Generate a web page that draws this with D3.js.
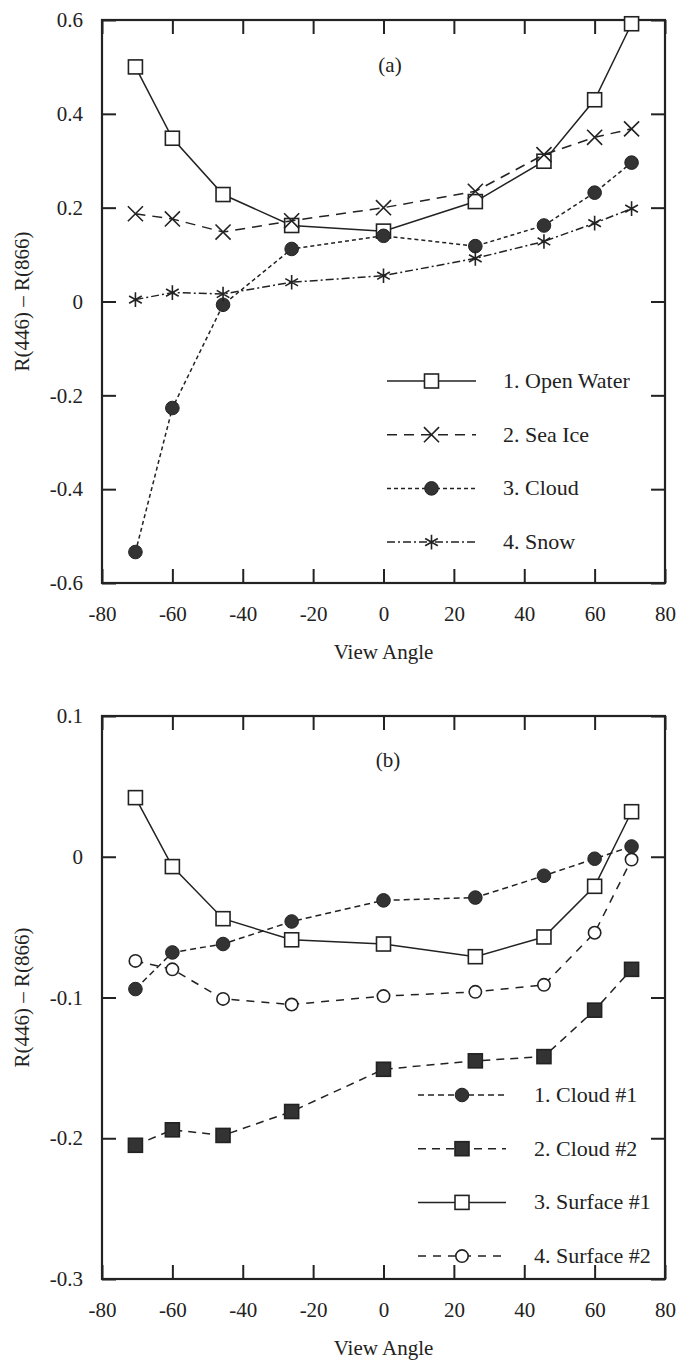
<!DOCTYPE html>
<html>
  <head>
    <meta charset="UTF-8" />
    <title>R(446) - R(866) vs View Angle</title>
    <style>
      body { margin: 0; background: #fff; }
      svg text { font-family: "Liberation Serif", "Times New Roman", "DejaVu Serif", serif !important; fill: #222; }
      .axis text { font-size: 21px; }
      .axis path { display: none; }
      .axis line { stroke: #222; stroke-width: 2; }
    </style>
  </head>
  <body>
    <svg id="chart" width="678" height="1361" font-family="Liberation Serif"></svg>
    <script src="https://cdnjs.cloudflare.com/ajax/libs/d3/7.8.5/d3.min.js"></script>
    <script>
// MISR camera view angles
const angles = [-70.5, -60, -45.6, -26.1, 0, 26.1, 45.6, 60, 70.5];
const xTicks = [-80, -60, -40, -20, 0, 20, 40, 60, 80];

// panel (a)
const openWater = [0.500, 0.348, 0.228, 0.162, 0.150, 0.213, 0.299, 0.430, 0.592];
const seaIce    = [0.187, 0.176, 0.148, 0.172, 0.200, 0.235, 0.313, 0.350, 0.368];
const cloud     = [-0.534, -0.227, -0.007, 0.112, 0.140, 0.118, 0.162, 0.232, 0.296];
const snow      = [0.004, 0.019, 0.016, 0.041, 0.055, 0.092, 0.128, 0.167, 0.198];
const yTicksA = [-0.6, -0.4, -0.2, 0, 0.2, 0.4, 0.6];

// panel (b)
const cloud1   = [-0.094, -0.068, -0.062, -0.046, -0.031, -0.029, -0.0135, -0.0014, 0.0073];
const cloud2   = [-0.205, -0.194, -0.198, -0.181, -0.151, -0.145, -0.142, -0.109, -0.080];
const surface1 = [0.042, -0.007, -0.044, -0.059, -0.062, -0.071, -0.057, -0.021, 0.032];
const surface2 = [-0.074, -0.080, -0.101, -0.105, -0.099, -0.096, -0.091, -0.054, -0.002];
const yTicksB = [-0.3, -0.2, -0.1, 0, 0.1];

const svg = d3.select('#chart');
const ink = '#222';
const serif = '"Liberation Serif", "Times New Roman", serif';

// plain hyphen for negatives, like the original
const fmtX = d => String(d);
const fmtY = d => d === 0 ? '0' : d.toFixed(1);

function marker(g, kind, cx, cy) {
  if (kind === 'openSquare' || kind === 'fillSquare') {
    g.append('rect').attr('x', cx - 7).attr('y', cy - 7)
      .attr('width', 14).attr('height', 14)
      .attr('fill', kind === 'openSquare' ? '#fff' : '#333')
      .attr('stroke', ink).attr('stroke-width', 1.6);
  } else if (kind === 'openCircle' || kind === 'fillCircle') {
    g.append('circle').attr('cx', cx).attr('cy', cy)
      .attr('r', kind === 'openCircle' ? 6.2 : 6.8)
      .attr('fill', kind === 'openCircle' ? '#fff' : '#333')
      .attr('stroke', ink).attr('stroke-width', kind === 'openCircle' ? 1.6 : 1);
  } else if (kind === 'cross') {
    g.append('path').attr('d', d3.symbol(d3.symbolX, 150)())
      .attr('transform', `translate(${cx},${cy})`)
      .attr('fill', 'none').attr('stroke', ink).attr('stroke-width', 1.6);
  } else if (kind === 'asterisk') {
    g.append('path').attr('d', d3.symbol(d3.symbolAsterisk, 150)())
      .attr('transform', `translate(${cx},${cy})`)
      .attr('fill', 'none').attr('stroke', ink).attr('stroke-width', 1.6);
  }
}

function drawPanel(opt) {
  const left = 102, right = 665;
  const x = d3.scaleLinear().domain([-80, 80]).range([left, right]);
  const y = d3.scaleLinear().domain(opt.yDomain).range([opt.bottom, opt.top]);
  const g = svg.append('g');

  // axes with inward ticks on all sides
  g.append('g').attr('class', 'axis').attr('transform', `translate(0,${opt.bottom})`)
    .call(d3.axisBottom(x).tickValues(xTicks).tickSize(-14).tickPadding(23).tickFormat(fmtX));
  g.append('g').attr('class', 'axis').attr('transform', `translate(0,${opt.top})`)
    .call(d3.axisTop(x).tickValues(xTicks).tickSize(-14).tickFormat(''));
  g.append('g').attr('class', 'axis').attr('transform', `translate(${left},0)`)
    .call(d3.axisLeft(y).tickValues(opt.yTicks).tickSize(-14).tickPadding(19).tickFormat(fmtY));
  g.append('g').attr('class', 'axis').attr('transform', `translate(${right},0)`)
    .call(d3.axisRight(y).tickValues(opt.yTicks).tickSize(-14).tickFormat(''));
  g.selectAll('.axis').attr('font-family', serif).attr('font-size', 21);
  g.selectAll('.axis text').attr('fill', ink);

  g.append('rect').attr('x', left).attr('y', opt.top)
    .attr('width', right - left).attr('height', opt.bottom - opt.top)
    .attr('fill', 'none').attr('stroke', ink).attr('stroke-width', 2.2);

  g.append('text').attr('x', (left + right) / 2).attr('y', opt.bottom + 76)
    .attr('text-anchor', 'middle').style('font-size', '21px').text('View Angle');
  g.append('text')
    .attr('transform', `translate(29,${(opt.top + opt.bottom) / 2}) rotate(-90)`)
    .attr('text-anchor', 'middle').style('font-size', '21px').text('R(446) – R(866)');
  g.append('text').attr('x', opt.tag[0]).attr('y', opt.tag[1])
    .attr('text-anchor', 'middle').style('font-size', '21px').text(opt.tagText);

  const line = d3.line().x(d => x(d[0])).y(d => y(d[1]));

  opt.series.forEach((s, i) => {
    const pts = angles.map((a, j) => [a, s.values[j]]);
    g.append('path').datum(pts).attr('d', line)
      .attr('fill', 'none').attr('stroke', ink).attr('stroke-width', 1.5)
      .attr('stroke-dasharray', s.dash);
    pts.forEach(p => marker(g, s.marker, x(p[0]), y(p[1])));

    // legend entry
    const ly = opt.legend.y + i * opt.legend.step;
    g.append('line').attr('x1', opt.legend.x0).attr('x2', opt.legend.x1)
      .attr('y1', ly).attr('y2', ly)
      .attr('stroke', ink).attr('stroke-width', 1.5).attr('stroke-dasharray', s.dash);
    marker(g, s.marker, (opt.legend.x0 + opt.legend.x1) / 2, ly);
    g.append('text').attr('x', opt.legend.tx).attr('y', ly + 7)
      .style('font-size', '22px').text(s.name);
  });
}

drawPanel({
  top: 20, bottom: 583, yDomain: [-0.6, 0.6], yTicks: yTicksA,
  tag: [390, 72], tagText: '(a)',
  legend: { x0: 387, x1: 476, tx: 503, y: 381, step: 53.7 },
  series: [
    { name: '1. Open Water', values: openWater, marker: 'openSquare', dash: null },
    { name: '2. Sea Ice', values: seaIce, marker: 'cross', dash: '10,7' },
    { name: '3. Cloud', values: cloud, marker: 'fillCircle', dash: '4,3' },
    { name: '4. Snow', values: snow, marker: 'asterisk', dash: '8,3,2,3' }
  ]
});

drawPanel({
  top: 716, bottom: 1279, yDomain: [-0.3, 0.1], yTicks: yTicksB,
  tag: [388, 767], tagText: '(b)',
  legend: { x0: 418, x1: 506, tx: 534, y: 1095, step: 53.7 },
  series: [
    { name: '1. Cloud #1', values: cloud1, marker: 'fillCircle', dash: '6,4' },
    { name: '2. Cloud #2', values: cloud2, marker: 'fillSquare', dash: '8,6' },
    { name: '3. Surface #1', values: surface1, marker: 'openSquare', dash: null },
    { name: '4. Surface #2', values: surface2, marker: 'openCircle', dash: '8,7' }
  ]
});
    </script>
  </body>
</html>
